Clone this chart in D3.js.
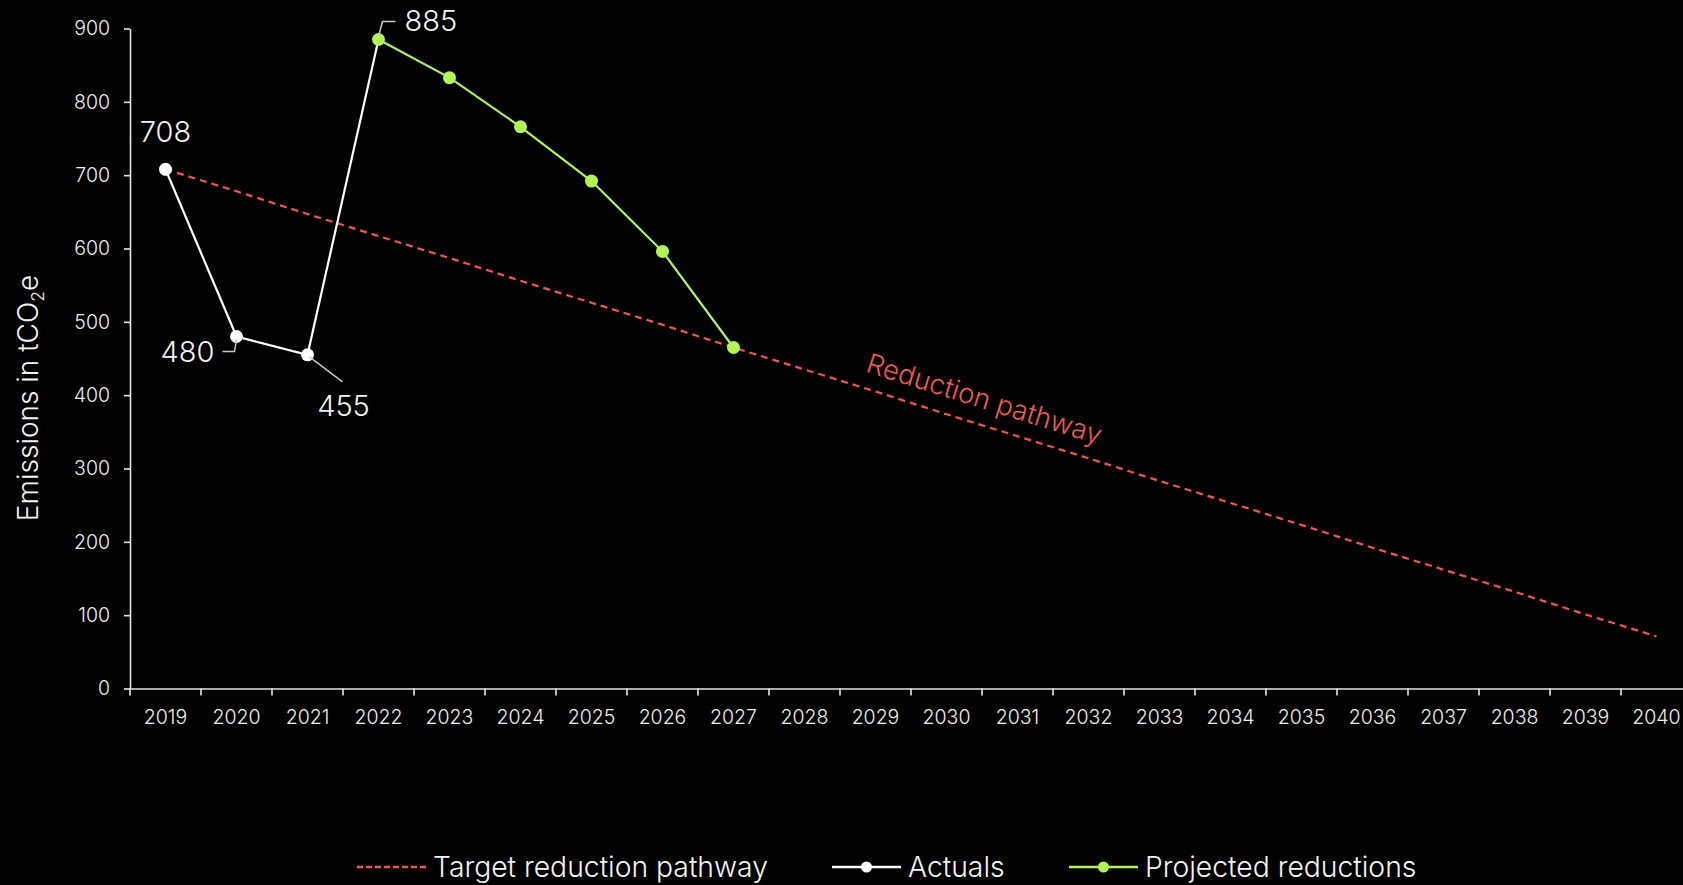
<!DOCTYPE html>
<html><head><meta charset="utf-8">
<script src="https://cdn.jsdelivr.net/npm/d3@7"></script>
<style>
html,body{margin:0;padding:0;background:#000;overflow:hidden;}
svg{display:block;font-family:Inter,"Liberation Sans",Arial,sans-serif;font-weight:300;}
</style></head>
<body><svg id="c" width="1683" height="885"></svg>
<script>
const years = ["2019","2020","2021","2022","2023","2024","2025","2026","2027","2028","2029","2030","2031","2032","2033","2034","2035","2036","2037","2038","2039","2040"];
const yTicks = [0,100,200,300,400,500,600,700,800,900];
const actualYears = ["2019","2020","2021","2022"];
const actualValues = [708,480,455,885];
const projectedYears = ["2022","2023","2024","2025","2026","2027"];
const projectedValues = [885,833,766,692,596,465];
const targetValues = [708,678,647,617,587,556,526,496,465,435,405,374,344,314,283,253,223,192,162,132,101,71];
const labelYears = ["2019","2020","2021","2022"];
const labelValues = [708,480,455,885];
const legendLabels = ["Target reduction pathway","Actuals","Projected reductions"];

const RED = "#ff4f4f", GREEN = "#b2f551", WHITE = "#ffffff", AXIS = "#e6e6e6";
const svg = d3.select("#c");
const x = d3.scaleBand().domain(years).range([130, 1692]).padding(0);
const y = d3.scaleLinear().domain([0, 900]).range([688.5, 28.5]);
const cx = d => x(d) + x.bandwidth()/2;

// Y axis
const ya = svg.append("g").attr("transform","translate(130,0)")
  .call(d3.axisLeft(y).tickValues(yTicks).tickSize(6).tickPadding(14).tickSizeOuter(0));
ya.select(".domain").attr("stroke",AXIS).attr("stroke-width",1.6);
ya.selectAll(".tick line").attr("stroke",AXIS).attr("stroke-width",1.6);
ya.selectAll(".tick text").attr("fill","#eeeeee").attr("font-size",19.5).attr("font-family","Inter").attr("font-weight",300);

// X axis
const xa = svg.append("g").attr("transform","translate(0,688.5)")
  .call(d3.axisBottom(x).tickSize(0).tickPadding(22).tickSizeOuter(0));
xa.select(".domain").attr("stroke",AXIS).attr("stroke-width",1.6);
xa.selectAll(".tick text").attr("fill","#eeeeee").attr("font-size",19.5).attr("font-family","Inter").attr("font-weight",300);
xa.selectAll(".bt").data(years).enter().append("line").attr("class","bt")
  .attr("x1",d=>x(d)).attr("x2",d=>x(d)).attr("y1",0).attr("y2",7)
  .attr("stroke",AXIS).attr("stroke-width",1.6);

// Y title
svg.append("text").attr("transform","translate(38,398) rotate(-90)")
  .attr("text-anchor","middle").attr("fill","#f2f2f2").attr("font-size",28)
  .html('Emissions in tCO<tspan font-size="17.5" dy="6">2</tspan><tspan dy="-6">e</tspan>');

// Target pathway
const line = d3.line().x(d=>cx(d[0])).y(d=>y(d[1]));
svg.append("path").datum(years.map((yr,i)=>[yr,targetValues[i]]))
  .attr("d",line).attr("fill","none").attr("stroke",RED).attr("stroke-width",2.2)
  .attr("stroke-dasharray","7,5");

// Pathway label
{
  const i0 = 0, i1 = years.length-1;
  const dx = cx(years[i1]) - cx(years[i0]);
  const dy = y(targetValues[i1]) - y(targetValues[i0]);
  const ang = Math.atan2(dy, dx) * 180/Math.PI;
  const px = 860;
  const t = (px - cx(years[0]))/dx;
  const py = y(targetValues[0]) + t*dy;
  svg.append("text").attr("transform",`translate(${px},${py}) rotate(${ang}) translate(0,-16)`)
    .attr("fill","#f25858").attr("font-size",27.5).text("Reduction pathway");
}

// Actuals
svg.append("path").datum(actualYears.map((yr,i)=>[yr,actualValues[i]]))
  .attr("d",line).attr("fill","none").attr("stroke",WHITE).attr("stroke-width",2.2);
svg.selectAll(".am").data(actualYears.slice(0,3)).enter().append("circle")
  .attr("cx",d=>cx(d)).attr("cy",(d,i)=>y(actualValues[i])).attr("r",6.5).attr("fill",WHITE);

// Projected
svg.append("path").datum(projectedYears.map((yr,i)=>[yr,projectedValues[i]]))
  .attr("d",line).attr("fill","none").attr("stroke",GREEN).attr("stroke-width",2.2);
svg.selectAll(".pm").data(projectedYears).enter().append("circle")
  .attr("cx",d=>cx(d)).attr("cy",(d,i)=>y(projectedValues[i])).attr("r",6.5).attr("fill",GREEN);

// Data labels
const LC = "#c8c8c8";
const lp = labelYears.map((yr,i)=>({x:cx(yr), y:y(labelValues[i]), v:labelValues[i]}));
// 708
svg.append("text").attr("x",lp[0].x).attr("y",lp[0].y-27).attr("text-anchor","middle")
  .attr("fill","#f4f4f4").attr("font-size",29).text(lp[0].v);
// 480
svg.append("path").attr("d",`M${lp[1].x-14},${lp[1].y+15} H${lp[1].x-2} L${lp[1].x},${lp[1].y+3}`)
  .attr("fill","none").attr("stroke",LC).attr("stroke-width",1.5);
svg.append("text").attr("x",lp[1].x-22).attr("y",lp[1].y+25).attr("text-anchor","end")
  .attr("fill","#f4f4f4").attr("font-size",29).text(lp[1].v);
// 455
svg.append("path").attr("d",`M${lp[2].x+2},${lp[2].y+2} L${lp[2].x+35},${lp[2].y+27}`)
  .attr("fill","none").attr("stroke",LC).attr("stroke-width",1.5);
svg.append("text").attr("x",lp[2].x+36).attr("y",lp[2].y+61).attr("text-anchor","middle")
  .attr("fill","#f4f4f4").attr("font-size",29).text(lp[2].v);
// 885
svg.append("path").attr("d",`M${lp[3].x},${lp[3].y-3} L${lp[3].x+4},${lp[3].y-18} H${lp[3].x+17}`)
  .attr("fill","none").attr("stroke",LC).attr("stroke-width",1.5);
svg.append("text").attr("x",lp[3].x+26).attr("y",lp[3].y-9)
  .attr("fill","#f4f4f4").attr("font-size",29).text(lp[3].v);

// Legend
const lg = svg.append("g").attr("transform","translate(0,867)");
const items = [
  {x:357, color:RED, dash:"6,3", marker:false},
  {x:832, color:WHITE, dash:null, marker:true},
  {x:1069, color:GREEN, dash:null, marker:true}
];
items.forEach((it,i)=>{
  const g = lg.append("g").attr("transform",`translate(${it.x},0)`);
  g.append("line").attr("x1",0).attr("x2",69).attr("y1",0).attr("y2",0)
    .attr("stroke",it.color).attr("stroke-width",2.5).attr("stroke-dasharray",it.dash);
  if(it.marker) g.append("circle").attr("cx",34.5).attr("cy",0).attr("r",5.5).attr("fill",it.color);
  g.append("text").attr("x",76).attr("y",10).attr("fill","#f4f4f4").attr("font-size",28.3).text(legendLabels[i]);
});
</script></body></html>
